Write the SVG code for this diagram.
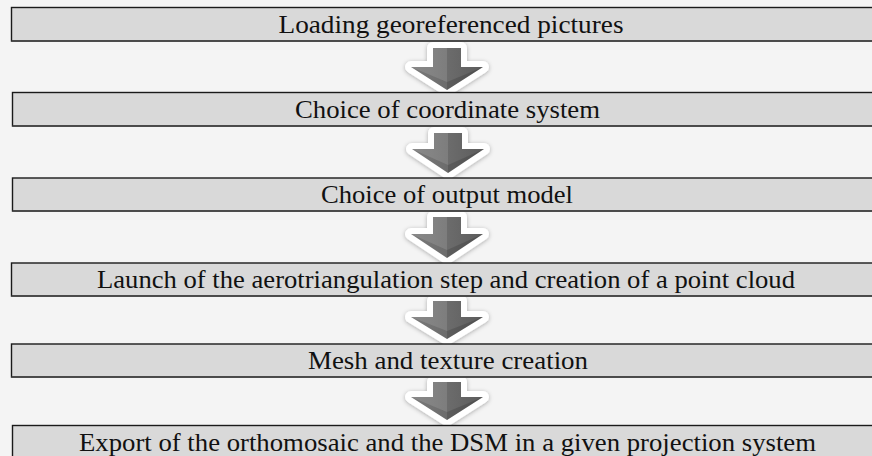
<svg xmlns="http://www.w3.org/2000/svg" width="872" height="456" viewBox="0 0 872 456">
<style>
.box{fill:#d9d9d9;stroke:#1a1a1a;stroke-width:1.4}
.shade{fill:none;stroke:#474747;stroke-width:1.6}
.lbl{font-family:"Liberation Serif","Times New Roman",serif;font-size:25.5px;fill:#111;text-anchor:middle}
.aout{fill:#ffffff;stroke:#ffffff;stroke-width:12;stroke-linejoin:round;filter:url(#sh)}
.ain{fill:url(#ag)}
.ahl{fill:#ffffff;opacity:0.12}
.adk{fill:#000000;opacity:0.14}
</style>
<defs>
<filter id="sh" x="-30%" y="-30%" width="160%" height="160%">
<feDropShadow dx="0" dy="1" stdDeviation="2.2" flood-color="#000" flood-opacity="0.3"/>
</filter>
<linearGradient id="ag" x1="0" y1="0" x2="1" y2="0">
<stop offset="0" stop-color="#7a7a7a"/>
<stop offset="0.5" stop-color="#6c6c6c"/>
<stop offset="1" stop-color="#5c5c5c"/>
</linearGradient>
</defs>
<rect width="872" height="456" fill="#f4f4f4"/>
<g id="connectors">
<g id="arrow1">
<path class="aout" d="M433,48 H461 V67 H483 L447,90 L411,67 H433 Z"/>
<path class="ain" d="M433,48 H461 V67 H483 L447,90 L411,67 H433 Z"/>
<path class="ahl" d="M433,48 H447 V82 L411,67 H433 Z"/>
<path class="adk" d="M447,82 L483,67 L447,90 Z"/>
</g>
<g id="arrow2">
<path class="aout" d="M434,133 H462 V149 H484 L448,173 L412,149 H434 Z"/>
<path class="ain" d="M434,133 H462 V149 H484 L448,173 L412,149 H434 Z"/>
<path class="ahl" d="M434,133 H448 V165 L412,149 H434 Z"/>
<path class="adk" d="M448,165 L484,149 L448,173 Z"/>
</g>
<g id="arrow3">
<path class="aout" d="M433,217 H461 V234 H483 L447,258 L411,234 H433 Z"/>
<path class="ain" d="M433,217 H461 V234 H483 L447,258 L411,234 H433 Z"/>
<path class="ahl" d="M433,217 H447 V250 L411,234 H433 Z"/>
<path class="adk" d="M447,250 L483,234 L447,258 Z"/>
</g>
<g id="arrow4">
<path class="aout" d="M433,301 H461 V317 H483 L447,339 L411,317 H433 Z"/>
<path class="ain" d="M433,301 H461 V317 H483 L447,339 L411,317 H433 Z"/>
<path class="ahl" d="M433,301 H447 V331 L411,317 H433 Z"/>
<path class="adk" d="M447,331 L483,317 L447,339 Z"/>
</g>
<g id="arrow5">
<path class="aout" d="M433,382 H461 V397 H483 L447,420 L411,397 H433 Z"/>
<path class="ain" d="M433,382 H461 V397 H483 L447,420 L411,397 H433 Z"/>
<path class="ahl" d="M433,382 H447 V412 L411,397 H433 Z"/>
<path class="adk" d="M447,412 L483,397 L447,420 Z"/>
</g>
</g>
<g id="node1">
<rect class="box" x="11.5" y="7.5" width="880" height="33.5"/>
<line class="shade" x1="11.5" y1="41" x2="872" y2="41"/>
<text class="lbl" x="451" y="32.6" textLength="345" lengthAdjust="spacingAndGlyphs">Loading georeferenced pictures</text>
</g>
<g id="node2">
<rect class="box" x="12.5" y="92.5" width="880" height="33.5"/>
<line class="shade" x1="12.5" y1="126" x2="872" y2="126"/>
<text class="lbl" x="447.5" y="118" textLength="305" lengthAdjust="spacingAndGlyphs">Choice of coordinate system</text>
</g>
<g id="node3">
<rect class="box" x="12.5" y="178" width="880" height="33"/>
<line class="shade" x1="12.5" y1="211" x2="872" y2="211"/>
<text class="lbl" x="447" y="203.3" textLength="252" lengthAdjust="spacingAndGlyphs">Choice of output model</text>
</g>
<g id="node4">
<rect class="box" x="11.5" y="263" width="880" height="33"/>
<line class="shade" x1="11.5" y1="296" x2="872" y2="296"/>
<text class="lbl" x="446" y="288.3" textLength="698" lengthAdjust="spacingAndGlyphs">Launch of the aerotriangulation step and creation of a point cloud</text>
</g>
<g id="node5">
<rect class="box" x="11.5" y="344" width="880" height="33"/>
<line class="shade" x1="11.5" y1="377" x2="872" y2="377"/>
<text class="lbl" x="448" y="369.3" textLength="280" lengthAdjust="spacingAndGlyphs">Mesh and texture creation</text>
</g>
<g id="node6">
<rect class="box" x="12.5" y="425.5" width="880" height="40"/>
<text class="lbl" x="447.5" y="451" textLength="737" lengthAdjust="spacingAndGlyphs">Export of the orthomosaic and the DSM in a given projection system</text>
</g>
</svg>
